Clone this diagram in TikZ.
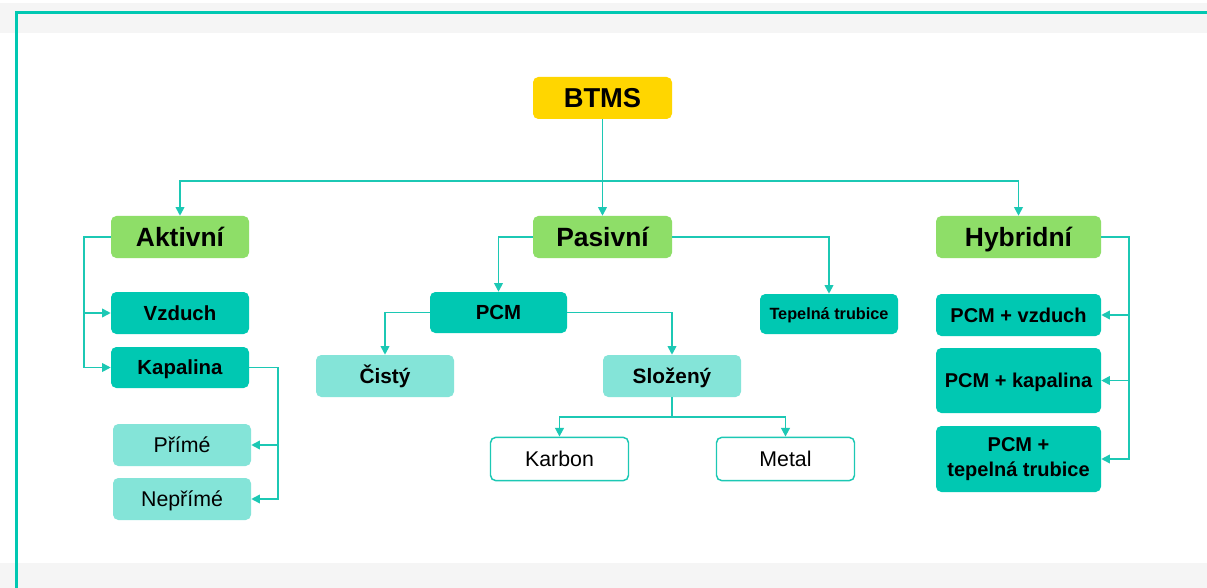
\documentclass[tikz,border=0pt]{standalone}
\usepackage{fontspec}
\setmainfont{Liberation Sans}
\usetikzlibrary{arrows.meta}
\definecolor{bgray}{HTML}{F5F5F5}
\definecolor{ylw}{HTML}{FFD600}
\definecolor{grn}{HTML}{8EDE68}
\definecolor{tl}{HTML}{00C8B2}
\definecolor{ltl}{HTML}{84E4D8}
\definecolor{ln}{HTML}{1CC8B4}
\tikzset{
  box/.style={rectangle, rounded corners=4pt, inner sep=0pt, text=black, align=center},
  lvl0/.style={box, fill=ylw, font=\bfseries\fontsize{20.5}{24}\selectfont, text height=14.7pt, text depth=0pt},
  lvl1/.style={box, fill=grn, font=\bfseries\fontsize{19.8}{24}\selectfont, text height=14.2pt, text depth=0pt},
  tbox/.style={box, fill=tl, font=\bfseries\fontsize{15.3}{18}\selectfont, text height=11pt, text depth=0pt},
  tsmall/.style={box, fill=tl, font=\bfseries\fontsize{12.2}{15}\selectfont, text height=8.7pt, text depth=0pt},
  lbold/.style={box, fill=ltl, font=\bfseries\fontsize{15.6}{18}\selectfont, text height=11.2pt, text depth=0pt},
  lreg/.style={box, fill=ltl, font=\fontsize{16}{19}\selectfont, text height=11.5pt, text depth=0pt},
  wbox/.style={box, fill=white, draw=ln, line width=1.1pt, font=\fontsize{16}{19}\selectfont, text height=11.5pt, text depth=0pt},
  hbox/.style={box, fill=tl, font=\bfseries\fontsize{15}{18.5}\selectfont},
  arr/.style={draw=ln, line width=1.3pt, -{Triangle[length=6.5pt,width=6.5pt]}},
}
\begin{document}
\begin{tikzpicture}[x=0.75pt,y=-0.75pt]
\useasboundingbox (0,0) rectangle (1207,588);
\fill[white] (0,0) rectangle (1207,588);
\fill[bgray] (0,3) rectangle (1207,33);
\fill[bgray] (0,562.7) rectangle (1207,588);
\draw[tl, line width=2.3pt] (16.2,588) -- (16.2,12.5) -- (1207,12.5);

\node[lvl0, minimum width=104.25pt, minimum height=31.5pt] (btms) at (602.5,98) {BTMS};
\node[lvl1, minimum width=103.5pt, minimum height=31.5pt] (akt) at (180,237) {Aktivní};
\node[lvl1, minimum width=104.25pt, minimum height=31.5pt] (pas) at (602.5,237) {Pasivní};
\node[lvl1, minimum width=123.75pt, minimum height=31.5pt] (hyb) at (1018.5,237) {Hybridní};

\node[tbox, minimum width=103.5pt, minimum height=31.5pt] (vzd) at (180,313) {Vzduch};
\node[tbox, minimum width=103.5pt, minimum height=30.75pt] (kap) at (180,367.5) {Kapalina};
\node[lreg, minimum width=103.5pt, minimum height=31.5pt] (pri) at (182,445) {Přímé};
\node[lreg, minimum width=103.5pt, minimum height=31.5pt] (nep) at (182,499) {Nepřímé};

\node[tbox, minimum width=102.75pt, minimum height=30.75pt] (pcm) at (498.5,312.5) {PCM};
\node[tsmall, minimum width=103.5pt, minimum height=30pt] (tep) at (829,314) {Tepelná trubice};
\node[lbold, minimum width=103.5pt, minimum height=31.5pt] (cis) at (385,376) {Čistý};
\node[lbold, minimum width=103.5pt, minimum height=31.5pt] (slo) at (672,376) {Složený};
\node[wbox, minimum width=103.5pt, minimum height=32.5pt] (kar) at (559.5,459) {Karbon};
\node[wbox, minimum width=103.5pt, minimum height=32.5pt] (met) at (785.5,459) {Metal};

\node[hbox, text height=10.8pt, text depth=0pt, minimum width=123.75pt, minimum height=31.5pt] (pv) at (1018.5,315) {PCM + vzduch};
\node[hbox, text height=10.8pt, text depth=0pt, minimum width=123.75pt, minimum height=48.75pt] (pk) at (1018.5,380.5) {PCM + kapalina};
\node[hbox, minimum width=123.75pt, minimum height=49.5pt] (pt) at (1018.5,459) {PCM +\\tepelná trubice};

\coordinate (j) at (602.5,181);
\draw[arr] (btms.south) -- (pas.north);
\draw[arr] (j) -| (akt.north);
\draw[arr] (j) -| (hyb.north);

\draw[arr] (akt.west) -- ++(-27,0) |- (vzd.west);
\draw[arr] (akt.west) -- ++(-27,0) |- (kap.west);
\draw[arr] (kap.east) -- ++(29,0) |- (pri.east);
\draw[arr] (kap.east) -- ++(29,0) |- (nep.east);

\draw[arr] (pas.west) -| (pcm.north);
\draw[arr] (pas.east) -| (tep.north);
\draw[arr] (pcm.west) -| (cis.north);
\draw[arr] (pcm.east) -| (slo.north);
\draw[arr] (slo.south) -- ++(0,20) -| (kar.north);
\draw[arr] (slo.south) -- ++(0,20) -| (met.north);

\draw[arr] (hyb.east) -- ++(28,0) |- (pv.east);
\draw[arr] (hyb.east) -- ++(28,0) |- (pk.east);
\draw[arr] (hyb.east) -- ++(28,0) |- (pt.east);
\end{tikzpicture}
\end{document}
